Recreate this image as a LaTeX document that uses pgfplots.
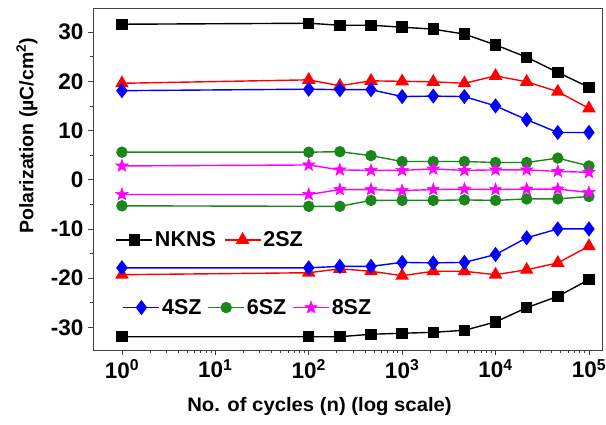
\documentclass[border=0pt]{standalone}
\usepackage{pgfplots}
\pgfplotsset{compat=1.18}
\usepackage{fontspec}
\setmainfont{Liberation Sans}
\newfontfamily\xlabfont[FakeStretch=1.04]{Liberation Sans}
\definecolor{mygreen}{RGB}{25,135,25}
\definecolor{mymag}{RGB}{255,0,255}
\pgfdeclareplotmark{fstar}{%
  \pgfpathmoveto{\pgfpointpolar{90}{1.1\pgfplotmarksize}}%
  \pgfpathlineto{\pgfpointpolar{126}{0.45\pgfplotmarksize}}%
  \pgfpathlineto{\pgfpointpolar{162}{1.1\pgfplotmarksize}}%
  \pgfpathlineto{\pgfpointpolar{198}{0.45\pgfplotmarksize}}%
  \pgfpathlineto{\pgfpointpolar{234}{1.1\pgfplotmarksize}}%
  \pgfpathlineto{\pgfpointpolar{270}{0.45\pgfplotmarksize}}%
  \pgfpathlineto{\pgfpointpolar{306}{1.1\pgfplotmarksize}}%
  \pgfpathlineto{\pgfpointpolar{342}{0.45\pgfplotmarksize}}%
  \pgfpathlineto{\pgfpointpolar{18}{1.1\pgfplotmarksize}}%
  \pgfpathlineto{\pgfpointpolar{54}{0.45\pgfplotmarksize}}%
  \pgfpathclose
  \pgfusepathqfillstroke
}
\begin{document}
\begin{tikzpicture}
\path[use as bounding box] (-93pt,-75pt) rectangle (513pt,350pt);
\begin{axis}[
  scale only axis, width=509pt, height=342pt,
  at={(0pt,0pt)}, anchor=south west,
  xmode=log, xmin=0.49, xmax=1.38e5, ymin=-34.6, ymax=34.9,
  axis line style={line width=0.9pt, black!75},
  tick align=outside, xtick pos=bottom, ytick pos=left,
  major tick length=5pt, minor tick length=3pt,
  every tick/.style={black!75, line width=0.8pt},
  ytick={-30,-20,...,30}, minor ytick={-35,-25,...,35},
  xtick={1,10,100,1000,10000,100000},
  xticklabels={10\textsuperscript{0},10\textsuperscript{1},10\textsuperscript{2},10\textsuperscript{3},10\textsuperscript{4},10\textsuperscript{5}},
  /pgf/number format/assume math mode=true,
  tick label style={font=\bfseries\fontsize{22.5}{26}\selectfont},
  yticklabel style={xshift=-1pt},
  xticklabel style={yshift=-1pt},
  xlabel={No. of cycles (n) (log scale)},
  ylabel={Polarization (µC/cm\textsuperscript{2})},
  every axis x label/.style={at={(axis description cs:0.445,-0.166)}, anchor=center, font=\xlabfont\bfseries\fontsize{19.5}{23}\selectfont},
  every axis y label/.style={at={(axis description cs:-0.130,0.626)}, anchor=center, rotate=90, font=\bfseries\fontsize{19.5}{23}\selectfont},
  every axis plot/.append style={line width=1.4pt},
  legend image code/.code={\draw[mark repeat=2,mark phase=2] plot coordinates {(0pt,0pt) (18pt,0pt) (36pt,0pt)};},
  legend style={draw=none, fill=none, at={(0.042,0.322)}, anchor=west,
    font=\bfseries\fontsize{21.5}{25}\selectfont, legend columns=2,
    /tikz/every even column/.append style={column sep=6pt}, inner sep=1pt},
]
% NKNS
\addplot[black, mark=square*, mark size=5pt] coordinates {(1,31.6) (100,31.8) (215.4,31.4) (464.2,31.4) (1000,31.0) (2154,30.6) (4642,29.6) (10000,27.4) (21544,24.9) (46416,21.8) (100000,18.8)};
\addlegendentry{NKNS}
\addplot[red, mark=triangle*, mark size=6.5pt] coordinates {(1,19.6) (100,20.3) (215.4,19.1) (464.2,20.1) (1000,20.0) (2154,19.9) (4642,19.6) (10000,21.1) (21544,19.9) (46416,17.9) (100000,14.5)};
\addlegendentry{2SZ}
\addplot[black, mark=square*, mark size=5pt, forget plot] coordinates {(1,-31.9) (100,-31.9) (215.4,-31.9) (464.2,-31.4) (1000,-31.2) (2154,-31.0) (4642,-30.6) (10000,-28.9) (21544,-26.0) (46416,-23.7) (100000,-20.3)};
\addplot[red, mark=triangle*, mark size=6.5pt, forget plot] coordinates {(1,-19.3) (100,-18.9) (215.4,-18.1) (464.2,-18.6) (1000,-19.5) (2154,-18.6) (4642,-18.6) (10000,-19.3) (21544,-18.3) (46416,-16.9) (100000,-13.5)};
% 4SZ
\addplot[blue, mark=diamond*, mark size=6.5pt, forget plot] coordinates {(1,18.1) (100,18.4) (215.4,18.3) (464.2,18.3) (1000,16.9) (2154,17.0) (4642,16.9) (10000,15.0) (21544,12.2) (46416,9.6) (100000,9.6)};
\addplot[blue, mark=diamond*, mark size=6.5pt, forget plot] coordinates {(1,-17.9) (100,-17.9) (215.4,-17.6) (464.2,-17.6) (1000,-16.8) (2154,-16.9) (4642,-16.8) (10000,-15.2) (21544,-11.8) (46416,-10.0) (100000,-10.0)};
% 6SZ
\addplot[mygreen, mark=*, mark size=5pt, forget plot] coordinates {(1,5.6) (100,5.6) (215.4,5.7) (464.2,4.9) (1000,3.7) (2154,3.7) (4642,3.7) (10000,3.5) (21544,3.5) (46416,4.4) (100000,2.8)};
\addplot[mygreen, mark=*, mark size=5pt, forget plot] coordinates {(1,-5.3) (100,-5.4) (215.4,-5.4) (464.2,-4.2) (1000,-4.2) (2154,-4.2) (4642,-4.1) (10000,-4.2) (21544,-3.9) (46416,-3.9) (100000,-3.4)};
% 8SZ
\addplot[mymag, mark=fstar, mark size=6pt, mark options={line width=0.5pt}, forget plot] coordinates {(1,2.8) (100,3.0) (215.4,2.0) (464.2,1.9) (1000,1.9) (2154,2.2) (4642,1.9) (10000,2.0) (21544,2.0) (46416,1.7) (100000,1.5)};
\addplot[mymag, mark=fstar, mark size=6pt, mark options={line width=0.5pt}, forget plot] coordinates {(1,-3.0) (100,-3.0) (215.4,-2.0) (464.2,-2.0) (1000,-2.2) (2154,-2.0) (4642,-1.9) (10000,-2.0) (21544,-1.9) (46416,-1.9) (100000,-2.6)};
\end{axis}
\begin{axis}[
  scale only axis, width=509pt, height=342pt,
  at={(0pt,0pt)}, anchor=south west,
  xmode=log, xmin=0.49, xmax=1.38e5, ymin=-34.6, ymax=34.9,
  hide axis,
  every axis plot/.append style={line width=1.4pt},
  legend image code/.code={\draw[mark repeat=2,mark phase=2] plot coordinates {(0pt,0pt) (18pt,0pt) (36pt,0pt)};},
  legend style={draw=none, fill=none, at={(0.056,0.124)}, anchor=west,
    font=\bfseries\fontsize{21.5}{25}\selectfont, legend columns=3,
    /tikz/every even column/.append style={column sep=4pt}, inner sep=1pt},
]
\addplot[draw=none, forget plot] coordinates {(1,0) (10,0)};
\addlegendimage{blue, mark=diamond*, mark size=6.5pt}
\addlegendentry{4SZ}
\addlegendimage{mygreen, mark=*, mark size=5pt}
\addlegendentry{6SZ}
\addlegendimage{mymag, mark=fstar, mark size=6pt, mark options={line width=0.5pt}}
\addlegendentry{8SZ}
\end{axis}
\end{tikzpicture}
\end{document}
